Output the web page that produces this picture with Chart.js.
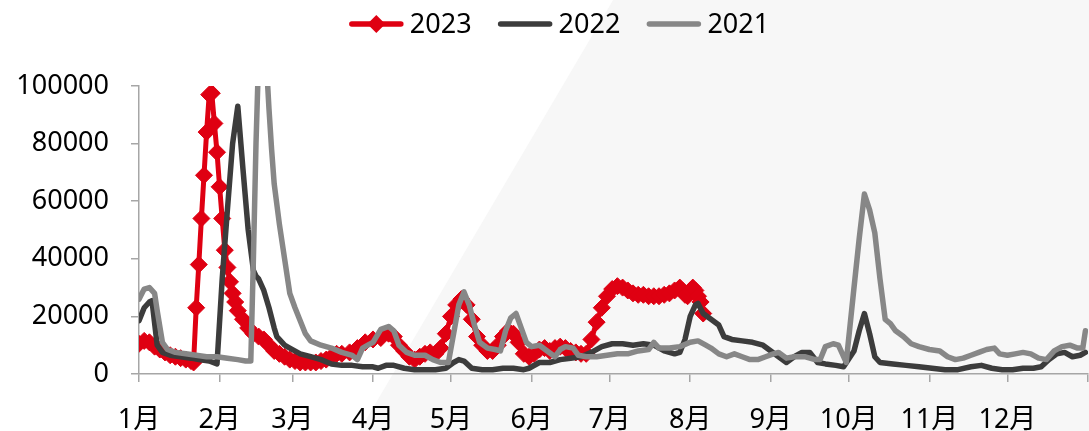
<!DOCTYPE html>
<html>
<head>
<meta charset="utf-8">
<script src="https://cdn.jsdelivr.net/npm/chart.js@4/dist/chart.umd.min.js"></script>
<style>
  html, body { margin: 0; padding: 0; background: #fff; }
  #wrap { width: 1089px; height: 431px; position: relative; }
</style>
</head>
<body>
<div id="wrap"><canvas id="chart"></canvas></div>
<script>
// Month ticks (day of year where each month starts) and their labels
const monthStartDays = [0, 31, 59, 90, 120, 151, 181, 212, 243, 273, 304, 334, 365];
const monthLabels = ['1月', '2月', '3月', '4月', '5月', '6月', '7月', '8月', '9月', '10月', '11月', '12月'];
const yTickValues = [0, 20000, 40000, 60000, 80000, 100000];

// 2023 (day of year, value)
const days2023 = [0,2,4,6,8,10,12,14,16,18,20,21,22,23,24,25,26,27,28,29,30,31,32,33,34,35,36,37,38,40,42,44,46,48,50,52,54,56,58,60,62,64,66,68,70,72,74,76,78,81,84,87,90,93,96,98,100,102,104,106,108,110,112,114,116,118,120,122,124,126,128,130,132,134,136,138,140,142,144,146,148,150,152,154,156,158,160,162,164,166,168,170,172,174,176,178,180,182,184,186,188,190,192,194,196,198,200,202,204,206,208,209,210,211,212,213,214,215,216,217];
const values2023 = [10500,11500,11000,9500,8500,7500,6500,6000,5500,5000,4500,4000,23000,38000,54000,69000,84000,97000,97500,87000,77000,65000,54000,43000,37000,32000,28000,25000,22000,19000,16000,14000,13000,12000,10000,8000,7000,6000,5000,4500,4000,4000,4000,4000,4500,5000,6000,7000,7000,7500,9000,11000,12000,12500,14000,13000,10000,8000,6000,5000,6000,7000,7500,7000,9000,14000,20000,24000,26000,24000,19000,13000,10000,8000,8000,10000,13000,15000,14000,11000,7000,6000,7000,8500,9000,8000,9000,9500,9000,8000,7500,7000,7000,12000,18000,23000,27000,29500,30500,30000,29000,28000,27500,27500,27000,27000,27000,27500,28000,29000,30000,29000,27500,27000,29000,30000,29000,27000,25000,21000];

// 2022
const days2022 = [0,2,4,5,7,9,12,16,20,23,27,30,32,34,36,38,40,42,44,45,46,48,50,52,53,56,58,62,66,70,74,78,82,86,90,92,95,98,102,106,110,114,118,121,123,125,128,132,136,140,144,148,150,154,158,162,166,170,174,178,182,186,190,194,198,202,206,208,210,212,214,215,217,220,223,225,228,232,236,240,243,246,249,252,255,258,261,264,268,271,275,277,279,281,283,285,290,295,300,305,310,315,320,324,328,332,336,340,344,347,350,353,356,359,362,364];
const values2022 = [18500,23000,25000,25500,10000,7500,6500,6000,5500,5000,4500,3500,33000,57000,80000,93000,71000,50000,36000,34000,33000,29000,23000,16000,13000,10000,9000,7000,6000,5000,3500,3000,3000,2500,2500,2000,3000,3000,2000,1500,1500,1500,2000,4000,5000,4500,2000,1500,1500,2000,2000,1500,2000,4000,4000,5000,5500,6000,7500,9500,10500,10500,10000,10500,10000,8000,7000,7500,12000,20000,24000,24500,21000,19000,17000,13000,12000,11500,11000,10000,8000,6000,4000,6000,7500,7500,4000,3500,3000,2500,8000,15000,21000,14000,6000,4000,3500,3000,2500,2000,1500,1500,2500,3000,2000,1500,1500,2000,2000,2500,5000,7000,7500,6000,6500,7500];

// 2021
const days2021 = [0,2,4,6,7,9,11,14,18,22,26,30,34,38,41,43,44,45,46,47,48,49,50,51,52,54,56,58,60,62,64,66,70,74,78,82,84,86,88,90,93,96,98,100,103,106,110,113,116,119,121,123,125,127,129,131,134,137,139,141,143,145,147,149,151,154,157,160,162,164,167,169,172,176,180,184,188,192,196,198,200,204,208,212,215,218,220,223,226,229,232,235,238,241,244,246,249,252,256,260,262,264,267,269,272,275,277,279,281,283,285,287,289,291,294,297,300,304,308,311,314,317,320,323,326,329,331,334,337,340,343,346,349,352,355,358,361,363,364];
const values2021 = [26000,29500,30000,28000,22000,11000,8500,7500,7000,6500,6000,6000,5500,5000,4500,4500,40000,80000,110000,135000,125000,108000,92000,78000,66000,52000,40000,28000,23000,18500,14000,11500,10000,9000,7500,6500,5000,9000,10000,11000,15500,16500,15000,10000,7500,6500,6500,5000,4000,4000,14000,24000,28500,24000,17000,11000,9000,8500,8000,15000,19500,21000,16000,11000,9500,10000,8000,6000,8500,9500,9000,6500,6000,6000,6500,7000,7000,8000,8500,11000,9000,9000,9500,11000,11500,10000,9000,7000,6000,7000,6000,5000,5000,6000,7000,7500,5500,6000,6000,5000,5000,9500,10500,10000,4000,30000,47000,62500,57000,49000,33000,19000,17500,15000,13000,10500,9500,8500,8000,6000,5000,5500,6500,7500,8500,9000,7000,6500,7000,7500,7000,5500,5000,8000,9500,10000,9000,9000,15000];

const pairUp = (xs, ys) => xs.map((x, i) => ({ x: x, y: ys[i] }));

const FONT = "'Noto Sans', 'Noto Sans CJK SC', sans-serif";
const AXIS_GREY = '#a6a6a6';

// Pale diagonal panel behind the plot
const backdrop = {
  id: 'backdrop',
  beforeDraw(chart) {
    const { ctx, width, height } = chart;
    ctx.save();
    ctx.fillStyle = '#ffffff';
    ctx.fillRect(0, 0, width, height);
    ctx.fillStyle = '#f7f7f7';
    ctx.beginPath();
    ctx.moveTo(width * 0.563, 0);
    ctx.lineTo(width, 0);
    ctx.lineTo(width, height);
    ctx.lineTo(width * 0.33, height);
    ctx.closePath();
    ctx.fill();
    ctx.restore();
  }
};

// Series key across the top: line sample (with marker when the series has one) + year
const seriesKey = {
  id: 'seriesKey',
  afterDraw(chart) {
    const ctx = chart.ctx;
    const sets = chart.data.datasets;
    const lineLen = 55, gapText = 6, gapItem = 26, cy = 24;
    ctx.save();
    ctx.font = '27px ' + FONT;
    const widths = sets.map(d => lineLen + gapText + ctx.measureText(d.label).width);
    const total = widths.reduce((a, b) => a + b, 0) + gapItem * (sets.length - 1);
    let x = 559 - total / 2;
    sets.forEach((d, i) => {
      ctx.strokeStyle = d.borderColor;
      ctx.lineWidth = 5.5;
      ctx.lineCap = 'round';
      ctx.beginPath();
      ctx.moveTo(x + 3, cy);
      ctx.lineTo(x + lineLen - 3, cy);
      ctx.stroke();
      if (d.pointRadius > 0) {
        const cx = x + lineLen / 2, r = 9;
        ctx.fillStyle = d.borderColor;
        ctx.beginPath();
        ctx.moveTo(cx, cy - r);
        ctx.lineTo(cx + r, cy);
        ctx.lineTo(cx, cy + r);
        ctx.lineTo(cx - r, cy);
        ctx.closePath();
        ctx.fill();
      }
      ctx.fillStyle = '#000';
      ctx.textAlign = 'left';
      ctx.textBaseline = 'middle';
      ctx.fillText(d.label, x + lineLen + gapText, cy + 1);
      x += widths[i] + gapItem;
    });
    ctx.restore();
  }
};

Chart.defaults.font.family = FONT;
Chart.defaults.font.size = 27;
Chart.defaults.color = '#000';

new Chart(document.getElementById('chart'), {
  type: 'line',
  data: {
    datasets: [
      {
        label: '2023',
        data: pairUp(days2023, values2023),
        borderColor: '#df0012',
        backgroundColor: '#df0012',
        borderWidth: 5,
        pointStyle: 'rectRot',
        pointRadius: 8.5,
        pointBorderWidth: 1,
        pointBackgroundColor: '#df0012',
        pointBorderColor: '#df0012',
        tension: 0,
        order: 2
      },
      {
        label: '2022',
        data: pairUp(days2022, values2022),
        borderColor: '#3c3c3c',
        backgroundColor: '#3c3c3c',
        borderWidth: 5.5,
        pointRadius: 0,
        tension: 0,
        order: 1
      },
      {
        label: '2021',
        data: pairUp(days2021, values2021),
        borderColor: '#878787',
        backgroundColor: '#878787',
        borderWidth: 5.5,
        pointRadius: 0,
        tension: 0,
        order: 0
      }
    ]
  },
  options: {
    responsive: true,
    maintainAspectRatio: false,
    animation: false,
    devicePixelRatio: 1,
    layout: { autoPadding: false, padding: { top: 86, right: 1, bottom: 0, left: 0 } },
    elements: { line: { borderJoinStyle: 'round', borderCapStyle: 'round' } },
    plugins: {
      legend: { display: false },
      tooltip: { enabled: false }
    },
    scales: {
      x: {
        type: 'linear',
        min: 0,
        max: 365,
        afterBuildTicks: scale => { scale.ticks = monthStartDays.map(v => ({ value: v })); },
        afterFit: scale => { scale.height = 57; scale.paddingRight = 0; scale.paddingLeft = 0; },
        ticks: {
          autoSkip: false,
          maxRotation: 0,
          padding: 22,
          font: { size: 27 },
          callback: (value, index) => monthLabels[index] ?? ''
        },
        grid: { drawOnChartArea: false, drawTicks: true, tickLength: 8, color: AXIS_GREY, lineWidth: 1.5 },
        border: { display: true, color: AXIS_GREY, width: 1.5 }
      },
      y: {
        min: 0,
        max: 100000,
        afterBuildTicks: scale => { scale.ticks = yTickValues.map(v => ({ value: v })); },
        afterFit: scale => { scale.width = 139; },
        ticks: {
          padding: 22,
          font: { size: 27 },
          callback: value => String(value)
        },
        grid: { drawOnChartArea: false, drawTicks: true, tickLength: 8, color: AXIS_GREY, lineWidth: 1.5 },
        border: { display: true, color: AXIS_GREY, width: 1.5 }
      }
    }
  },
  plugins: [backdrop, seriesKey]
});
</script>
</body>
</html>
